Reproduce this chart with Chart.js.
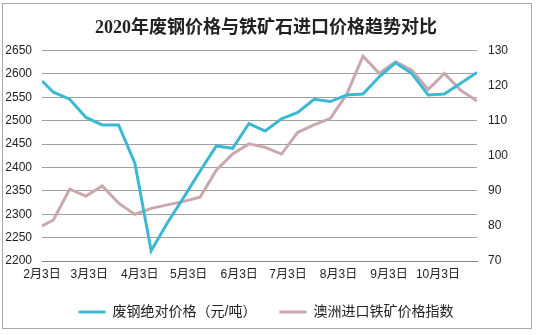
<!DOCTYPE html>
<html>
<head>
<meta charset="utf-8">
<script src="https://cdn.jsdelivr.net/npm/chart.js@4.4.1/dist/chart.umd.min.js"></script>
<style>
  html, body { margin: 0; padding: 0; background: #fff; }
  #wrap { width: 536px; height: 335px; }
</style>
</head>
<body>
<div id="wrap"><canvas id="grafico"></canvas></div>
<script>
// datas das observações (a cada ~10 dias)
const datas = [
  '2020-02-03', '2020-02-10', '2020-02-20', '2020-03-01', '2020-03-11', '2020-03-21', '2020-03-31',
  '2020-04-10', '2020-04-20', '2020-04-30', '2020-05-10', '2020-05-20', '2020-05-30', '2020-06-09',
  '2020-06-19', '2020-06-29', '2020-07-09', '2020-07-19', '2020-07-29', '2020-08-08', '2020-08-18',
  '2020-08-28', '2020-09-07', '2020-09-17', '2020-09-27', '2020-10-07', '2020-10-17', '2020-10-27'
];

// 废钢绝对价格（元/吨）
const precoSucata = [
  2585, 2561, 2546, 2507, 2491, 2491, 2409,
  2222, 2282, 2336, 2392, 2446, 2441, 2494,
  2478, 2504, 2518, 2546, 2541, 2555, 2557,
  2594, 2624, 2601, 2555, 2557, 2580, 2603
];

// 澳洲进口铁矿价格指数
const indiceMinerio = [
  80.0, 81.7, 90.5, 88.5, 91.4, 86.5, 83.3,
  85.0, 86.0, 87.0, 88.2, 95.9, 100.5, 103.4,
  102.4, 100.5, 106.7, 108.8, 110.7, 117.5, 128.4,
  123.5, 126.8, 124.4, 118.9, 123.5, 118.7, 115.6
];

const nomesSeries = ['废钢绝对价格（元/吨）', '澳洲进口铁矿价格指数'];
const titulo = '2020年废钢价格与铁矿石进口价格趋势对比';

// rótulos do eixo x
const datasTicks = [
  '2020-02-03', '2020-03-03', '2020-04-03', '2020-05-03', '2020-06-03',
  '2020-07-03', '2020-08-03', '2020-09-03', '2020-10-03'
];
const rotulosTicks = ['2月3日', '3月3日', '4月3日', '5月3日', '6月3日', '7月3日', '8月3日', '9月3日', '10月3日'];

const ticksEsq = [2200, 2250, 2300, 2350, 2400, 2450, 2500, 2550, 2600, 2650];
const ticksDir = [70, 80, 90, 100, 110, 120, 130];

const DIA = 24 * 3600 * 1000;
const inicio = Date.parse(datas[0]);
const paraDia = (d) => Math.round((Date.parse(d) - inicio) / DIA);

const diasTicks = datasTicks.map(paraDia);
const pontosSucata = datas.map((d, i) => ({ x: paraDia(d), y: precoSucata[i] }));
const pontosMinerio = datas.map((d, i) => ({ x: paraDia(d), y: indiceMinerio[i] }));

const fonteTxt = "Arial, 'Liberation Sans', 'Noto Sans CJK SC', sans-serif";
const azul = '#3cb9d2';
const rosa = '#c9a9ae';

// moldura cinza em volta do gráfico
const moldura = {
  id: 'moldura',
  beforeDraw(chart) {
    const ctx = chart.ctx;
    ctx.save();
    ctx.fillStyle = '#fff';
    ctx.fillRect(0, 0, chart.width, chart.height);
    ctx.strokeStyle = '#a8a8a8';
    ctx.lineWidth = 1;
    ctx.strokeRect(2.5, 3.5, 529, 325);
    ctx.restore();
  }
};

new Chart(document.getElementById('grafico'), {
  type: 'line',
  data: {
    datasets: [
      {
        label: nomesSeries[0],
        data: pontosSucata,
        yAxisID: 'yEsq',
        borderColor: azul,
        backgroundColor: azul,
        borderWidth: 3,
        pointRadius: 0,
        tension: 0
      },
      {
        label: nomesSeries[1],
        data: pontosMinerio,
        yAxisID: 'yDir',
        borderColor: rosa,
        backgroundColor: rosa,
        borderWidth: 3,
        pointRadius: 0,
        tension: 0
      }
    ]
  },
  options: {
    responsive: true,
    maintainAspectRatio: false,
    animation: false,
    layout: { padding: { left: 0, right: 4, top: 4, bottom: 6 } },
    plugins: {
      title: {
        display: true,
        text: titulo,
        color: '#222',
        font: { family: "'Liberation Serif', 'Noto Sans CJK SC', serif", size: 18, weight: 'bold' },
        padding: { top: 14, bottom: 11 }
      },
      legend: {
        position: 'bottom',
        labels: {
          color: '#222',
          font: { family: fonteTxt, size: 14 },
          boxWidth: 27,
          boxHeight: 3,
          padding: 23,
          generateLabels(chart) {
            const itens = Chart.defaults.plugins.legend.labels.generateLabels(chart);
            itens.forEach((it) => { it.lineWidth = 0; it.fillStyle = it.strokeStyle; });
            return itens;
          }
        }
      },
      tooltip: { enabled: false }
    },
    scales: {
      x: {
        type: 'linear',
        min: 0,
        max: pontosSucata[pontosSucata.length - 1].x,
        afterBuildTicks(scale) {
          scale.ticks = diasTicks.map((v) => ({ value: v }));
        },
        afterFit(scale) { scale.height = 21; },
        ticks: {
          color: '#222',
          font: { family: fonteTxt, size: 12 },
          maxRotation: 0,
          autoSkip: false,
          padding: 6,
          callback(v) {
            const i = diasTicks.indexOf(v);
            return i >= 0 ? rotulosTicks[i] : '';
          }
        },
        grid: { display: false, drawTicks: false },
        border: { display: true, color: '#888' }
      },
      yEsq: {
        position: 'left',
        min: ticksEsq[0],
        max: ticksEsq[ticksEsq.length - 1],
        afterBuildTicks(scale) {
          scale.ticks = ticksEsq.map((v) => ({ value: v }));
        },
        afterFit(scale) { scale.width = 42; },
        ticks: {
          color: '#222',
          font: { family: fonteTxt, size: 12 },
          padding: 10,
          callback: (v) => String(v)
        },
        grid: { color: '#a0a0a0', drawTicks: false },
        border: { display: false }
      },
      yDir: {
        position: 'right',
        min: ticksDir[0],
        max: ticksDir[ticksDir.length - 1],
        afterBuildTicks(scale) {
          scale.ticks = ticksDir.map((v) => ({ value: v }));
        },
        afterFit(scale) { scale.width = 55; },
        ticks: {
          color: '#222',
          font: { family: fonteTxt, size: 12 },
          padding: 11,
          callback: (v) => String(v)
        },
        grid: { display: false, drawTicks: false },
        border: { display: false }
      }
    }
  },
  plugins: [moldura]
});
</script>
</body>
</html>
